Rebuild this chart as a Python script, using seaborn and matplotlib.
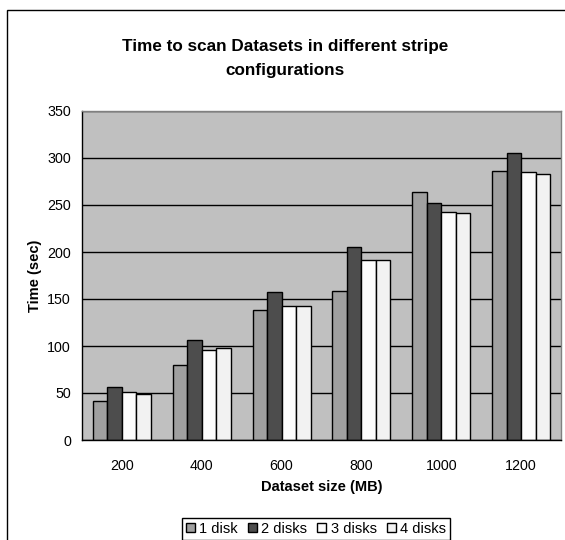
import matplotlib
matplotlib.use("Agg")
import matplotlib.pyplot as plt
import seaborn as sns
import pandas as pd
import numpy as np
from matplotlib.patches import Rectangle

sizes = ["200", "400", "600", "800", "1000", "1200"]
configs = ["1 disk", "2 disks", "3 disks", "4 disks"]
disk1 = [41, 80, 138, 158, 264, 286]
disk2 = [56, 106, 157, 205, 252, 305]
disk3 = [51, 96, 143, 192, 243, 285]
disk4 = [49, 98, 143, 192, 242, 283]
colors = ["#A0A0A0", "#4D4D4D", "#FCFCFC", "#F2F2F2"]

rows = []
for cfg, vals in zip(configs, [disk1, disk2, disk3, disk4]):
    for s, v in zip(sizes, vals):
        rows.append({"size": s, "time": v, "config": cfg})
df = pd.DataFrame(rows)

sns.set_style("white")
plt.rcParams["font.family"] = ["Liberation Sans", "DejaVu Sans"]
plt.rcParams["text.color"] = "black"
plt.rcParams["axes.labelcolor"] = "black"
plt.rcParams["xtick.color"] = "black"
plt.rcParams["ytick.color"] = "black"

W, H = 565, 540
fig = plt.figure(figsize=(W / 100, H / 100), dpi=100)
fig.patch.set_facecolor("white")

# outer chart frame (cropped on right/bottom)
fig.patches.append(Rectangle((7 / W, -0.05), 1.2, 1 - 10 / H + 0.05,
                             transform=fig.transFigure, fill=False,
                             edgecolor="black", linewidth=1.0))

ax = fig.add_axes([82 / W, 100 / H, 479 / W, 329 / H])
ax.set_facecolor("#C0C0C0")

sns.barplot(data=df, x="size", y="time", hue="config", palette=colors,
            order=sizes, hue_order=configs, width=0.725, gap=0,
            edgecolor="black", linewidth=1.0, ax=ax, saturation=1)

ax.set_ylim(0, 350)
ax.set_xlim(-0.5, 5.5)
ax.set_yticks(np.arange(0, 351, 50))
ax.yaxis.grid(True, color="black", linewidth=1.0)
ax.set_axisbelow(True)

for sp in ["top", "right"]:
    ax.spines[sp].set_color("#808080")
    ax.spines[sp].set_linewidth(1.0)
for sp in ["left", "bottom"]:
    ax.spines[sp].set_color("black")
    ax.spines[sp].set_linewidth(1.0)

ax.tick_params(axis="x", which="major", length=0, labelsize=10.3, pad=14)
ax.set_xticks(np.arange(-0.5, 6, 1), minor=True)
ax.tick_params(axis="x", which="minor", length=5, width=1, direction="out", color="black")
ax.tick_params(axis="y", length=5, width=1, direction="out", labelsize=10.3, pad=3, color="black")

ax.set_xlabel("Dataset size (MB)", fontsize=10.5, fontweight="bold", labelpad=5)
ax.set_ylabel("Time (sec)", fontsize=10.5, fontweight="bold", labelpad=4)

handles, labels = ax.get_legend_handles_labels()
ax.get_legend().remove()
fig.legend(handles, labels, loc="center", bbox_to_anchor=(316 / W, 1 - 529 / H),
           ncol=4, frameon=True, fancybox=False, edgecolor="black",
           fontsize=10.5, handlelength=0.6, handleheight=0.6, handletextpad=0.3,
           columnspacing=0.7, borderpad=0.25, borderaxespad=0, framealpha=1)
fig.legends[0].get_frame().set_linewidth(1.0)

fig.text(285 / W, 1 - 58 / H, "Time to scan Datasets in different stripe\nconfigurations",
         ha="center", va="center", fontsize=12.3, fontweight="bold", linespacing=1.75)

fig.savefig("out.png", dpi=100)
